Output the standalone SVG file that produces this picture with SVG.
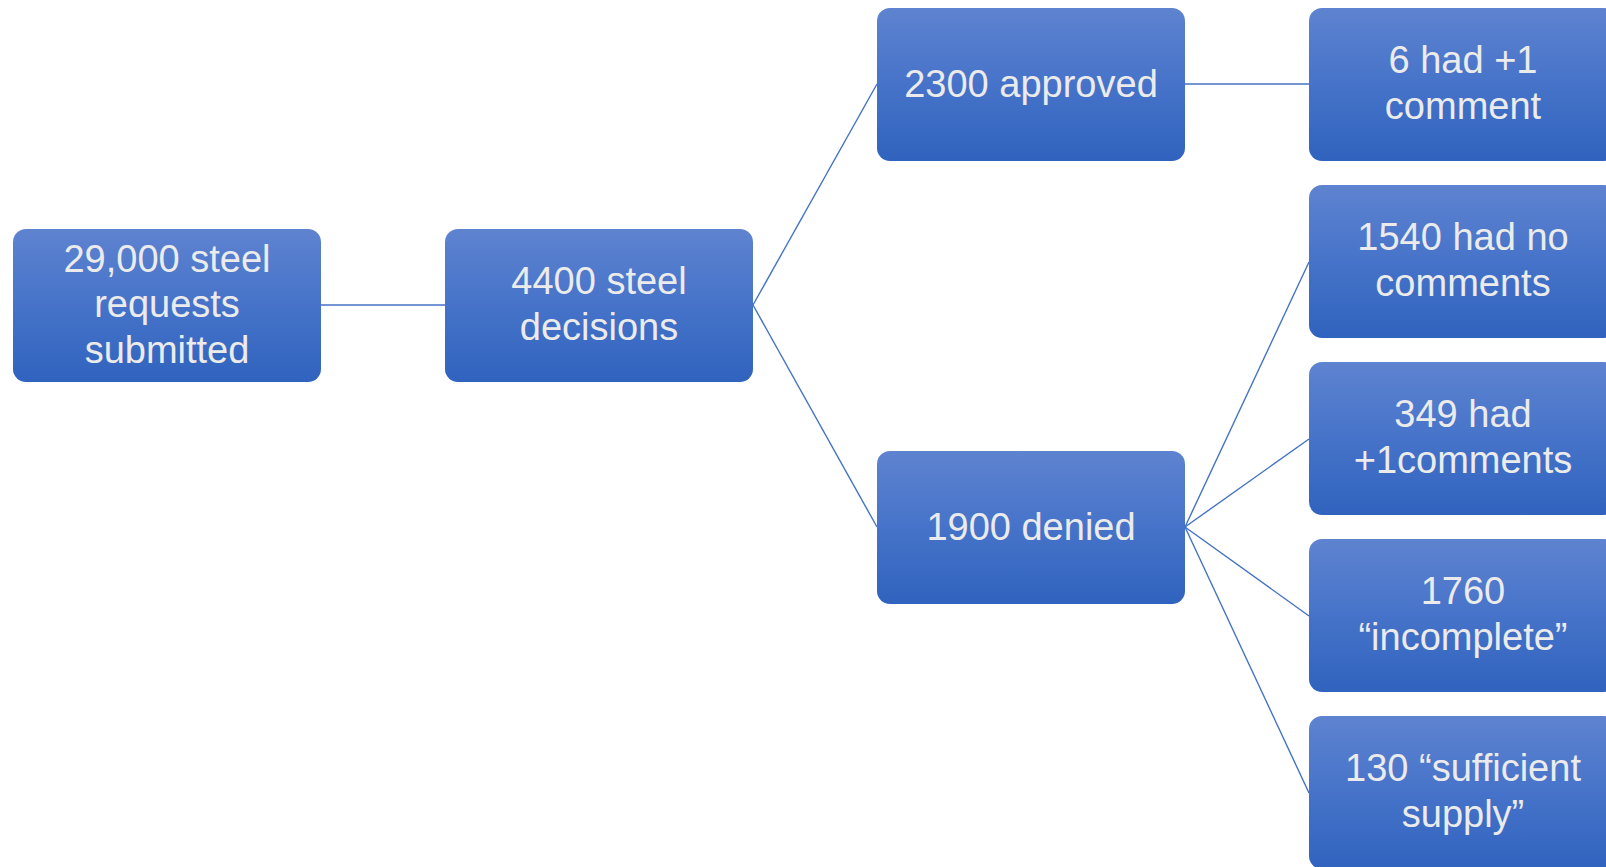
<svg xmlns="http://www.w3.org/2000/svg" width="1606" height="867" viewBox="0 0 1606 867">
<defs>
<linearGradient id="g" x1="0" y1="0" x2="0" y2="1">
<stop offset="0" stop-color="#5E83D0"/>
<stop offset="0.5" stop-color="#4673C9"/>
<stop offset="1" stop-color="#3063BE"/>
</linearGradient>
</defs>
<style>
.box{fill:url(#g);}
.t{font-family:"Liberation Sans",Arial,sans-serif;font-size:38px;fill:#EBEBEB;text-anchor:middle;}
.c{stroke:#4472C4;stroke-width:1.4;fill:none;}
</style>
<rect width="1606" height="867" fill="#ffffff"/>
<g id="connectors">
<line class="c" x1="321" y1="305" x2="445" y2="305"/>
<line class="c" x1="753" y1="305" x2="877" y2="84"/>
<line class="c" x1="753" y1="305" x2="877" y2="527"/>
<line class="c" x1="1185" y1="84" x2="1309" y2="84"/>
<line class="c" x1="1185" y1="527" x2="1309" y2="262"/>
<line class="c" x1="1185" y1="527" x2="1309" y2="439"/>
<line class="c" x1="1185" y1="527" x2="1309" y2="616"/>
<line class="c" x1="1185" y1="527" x2="1309" y2="793"/>
</g>
<g id="n-submitted">
<rect class="box" x="13" y="229" width="308" height="153" rx="13"/>
<text class="t" x="167" y="272">29,000 steel</text>
<text class="t" x="167" y="317">requests</text>
<text class="t" x="167" y="363">submitted</text>
</g>
<g id="n-decisions">
<rect class="box" x="445" y="229" width="308" height="153" rx="13"/>
<text class="t" x="599" y="294">4400 steel</text>
<text class="t" x="599" y="340">decisions</text>
</g>
<g id="n-approved">
<rect class="box" x="877" y="8" width="308" height="153" rx="13"/>
<text class="t" x="1031" y="97">2300 approved</text>
</g>
<g id="n-denied">
<rect class="box" x="877" y="451" width="308" height="153" rx="13"/>
<text class="t" x="1031" y="540">1900 denied</text>
</g>
<g id="n-plus1comment">
<rect class="box" x="1309" y="8" width="308" height="153" rx="13"/>
<text class="t" x="1463" y="73">6 had +1</text>
<text class="t" x="1463" y="119">comment</text>
</g>
<g id="n-nocomments">
<rect class="box" x="1309" y="185" width="308" height="153" rx="13"/>
<text class="t" x="1463" y="250">1540 had no</text>
<text class="t" x="1463" y="296">comments</text>
</g>
<g id="n-plus1comments">
<rect class="box" x="1309" y="362" width="308" height="153" rx="13"/>
<text class="t" x="1463" y="427">349 had</text>
<text class="t" x="1463" y="473">+1comments</text>
</g>
<g id="n-incomplete">
<rect class="box" x="1309" y="539" width="308" height="153" rx="13"/>
<text class="t" x="1463" y="604">1760</text>
<text class="t" x="1463" y="650">“incomplete”</text>
</g>
<g id="n-sufficient">
<rect class="box" x="1309" y="716" width="308" height="153" rx="13"/>
<text class="t" x="1463" y="781">130 “sufficient</text>
<text class="t" x="1463" y="827">supply”</text>
</g>
</svg>
